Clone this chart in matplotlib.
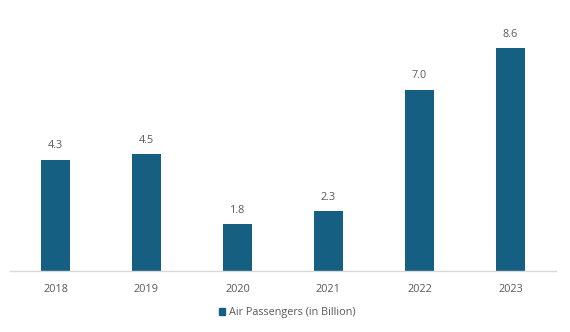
import matplotlib
matplotlib.use("Agg")
import matplotlib.pyplot as plt
from matplotlib.patches import Patch

years = ["2018", "2019", "2020", "2021", "2022", "2023"]
values = [4.3, 4.5, 1.8, 2.3, 7.0, 8.6]
series_name = "Air Passengers (in Billion)"

color = "#156082"
text_color = "#595959"
plt.rcParams['font.family'] = ['Open Sans', 'DejaVu Sans']

W, H = 570, 332
fig = plt.figure(figsize=(W/100, H/100), dpi=100)
left, right = 10, 556
base, top = 271, 12
ax = fig.add_axes([left/W, 1 - base/H, (right-left)/W, (base-top)/H])

x = range(len(years))
bars = ax.bar(x, values, width=0.32, color=color)
ax.set_xlim(-0.5, len(years) - 0.5)
ax.set_ylim(0, 10)

fs = 7.8
for xi, v in zip(x, values):
    ax.annotate(f"{v:.1f}", (xi, v), xytext=(0, 6), textcoords="offset points",
                ha="center", va="bottom", fontsize=fs, color=text_color)

ax.set_xticks(list(x))
ax.set_xticklabels(years, fontsize=fs, color=text_color)
ax.tick_params(axis='x', length=0, pad=9)
ax.set_yticks([])
for s in ["top", "right", "left"]:
    ax.spines[s].set_visible(False)
ax.spines["bottom"].set_color("#d9d9d9")
ax.spines["bottom"].set_linewidth(1.0)

fig.legend(handles=[Patch(color=color, label=series_name)],
           loc="center", bbox_to_anchor=(287/W, 1 - 313/H), frameon=False,
           fontsize=fs, labelcolor=text_color, handlelength=0.6, handleheight=0.6,
           handletextpad=0.3)

fig.savefig("out.png", dpi=100)
